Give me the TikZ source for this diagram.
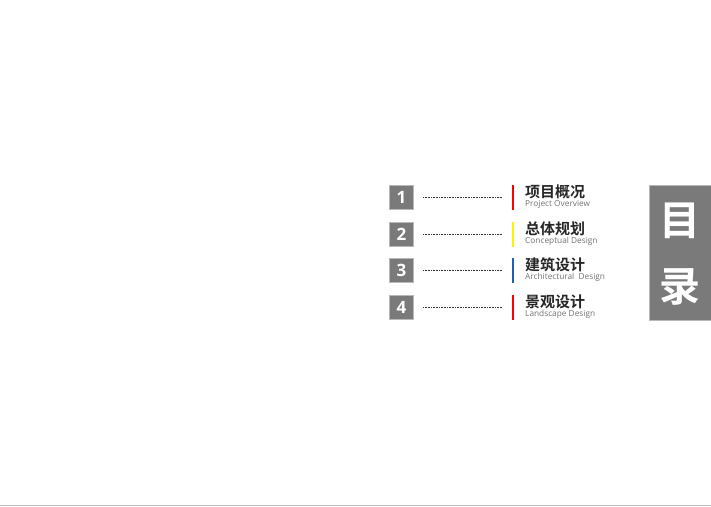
\documentclass[tikz,border=0pt]{standalone}
\usepackage{fontspec}
\setmainfont{Open Sans}
\newfontfamily\cjk{Noto Sans CJK SC}[BoldFont={* Bold}]
\definecolor{barblue}{HTML}{1F5FB0}
\begin{document}
\begin{tikzpicture}[x=1pt,y=-1pt,
  numbox/.style={draw=gray!55,line width=1pt,fill=black!52,minimum width=24pt,minimum height=24pt,inner sep=0pt,text=white,font=\bfseries\fontsize{17}{17}\selectfont},
  dots/.style={densely dotted,line width=0.6pt,black!80},
  cn/.style={anchor=west,inner sep=0pt,font=\cjk\bfseries\fontsize{15}{15}\selectfont,text=black!85},
  en/.style={anchor=west,inner sep=0pt,font=\fontsize{8.3}{9}\selectfont,text=black!55}]
\useasboundingbox (0,0) rectangle (711,506);
\fill[white] (0,0) rectangle (711,506);
\draw[black!25,line width=1pt] (0,505.5) -- (711,505.5);
\def\row#1#2#3#4#5{%
  \node[numbox] (n#1) at (401.5,#2) {#1};
  \coordinate (a#1) at (423,#2);
  \coordinate (b#1) at (502,#2);
  \draw[dots] (a#1) -- (b#1);
  \draw[#3,line width=2pt] (512.5,#2-12.5) -- (512.5,#2+12.5);
  \node[cn] (c#1) at (525,#2-5.5) {#4};
  \node[en] (e#1) at (525,#2+7) {#5};}
\row{1}{197}{red}{项目概况}{Project Overview}
\row{2}{234}{yellow}{总体规划}{Conceptual Design}
\row{3}{270.5}{barblue}{建筑设计}{Architectural\ \ Design}
\row{4}{307.5}{red}{景观设计}{Landscape Design}
\node[fill=black!52,draw=gray!55,line width=1pt,minimum width=62pt,minimum height=135pt,anchor=north west] (big) at (649,185) {};
\node[text=white,font=\cjk\bfseries\fontsize{41}{41}\selectfont] (mu) at (680,221) {目};
\node[text=white,font=\cjk\bfseries\fontsize{41}{41}\selectfont] (lu) at (680,287) {录};
\end{tikzpicture}
\end{document}
